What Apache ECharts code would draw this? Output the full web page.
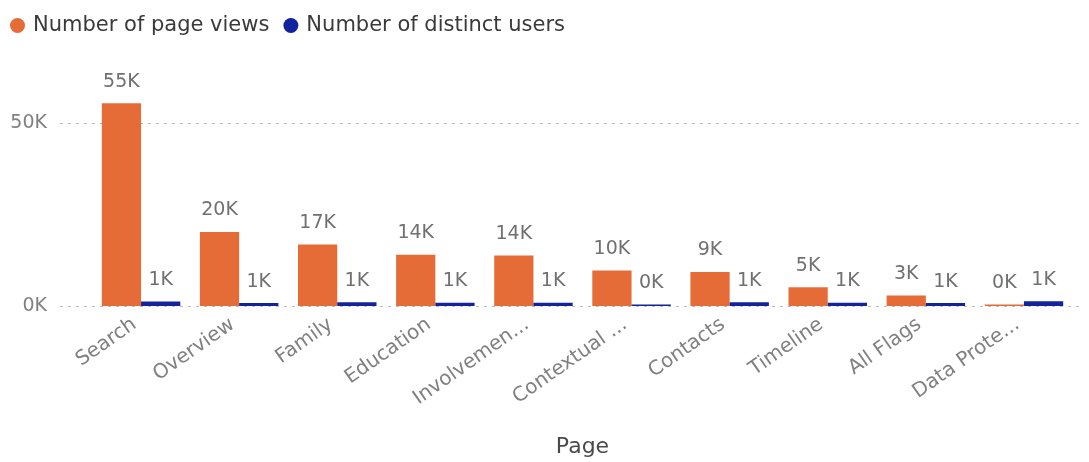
<!DOCTYPE html>
<html><head><meta charset="utf-8">
<script src="https://cdn.jsdelivr.net/npm/echarts@6/dist/echarts.min.js"></script>
<style>html,body{margin:0;padding:0;background:#fff}#c{width:1089px;height:462px}</style>
</head><body><div id="c"></div>
<script>
const categories = ['Search','Overview','Family','Education','Involvemen...','Contextual ...','Contacts','Timeline','All Flags','Data Prote...'];
const pageViews = [55400, 20200, 16800, 14000, 13800, 9700, 9300, 5100, 2900, 400];
const distinctUsers = [1200, 800, 1000, 900, 900, 400, 1000, 900, 800, 1300];
const yTicks = [0, 50000];

const font = "'DejaVu Sans',sans-serif";
const fmtK = v => Math.round(v / 1000) + 'K';
const chart = echarts.init(document.getElementById('c'));
chart.setOption({
  animation: false,
  textStyle: { fontFamily: font },
  legend: {
    left: 5, top: 10, icon: 'circle', itemWidth: 15, itemHeight: 15, itemGap: 14,
    textStyle: { fontFamily: font, fontSize: 21, color: '#3a3a3a', padding: [0, 0, 0, 3] },
    data: ['Number of page views', 'Number of distinct users']
  },
  grid: [
    { left: 92, right: 16, top: 101, bottom: 156 },
    { left: 60, right: 9, top: 101, bottom: 156 }
  ],
  xAxis: [
    {
      type: 'category', gridIndex: 0, data: categories,
      axisLine: { show: false }, axisTick: { show: false },
      axisLabel: { rotate: 35, fontFamily: font, fontSize: 20, color: '#808080', margin: 12, interval: 0, padding: [0, 8, 0, 0] },
      name: 'Page', nameLocation: 'middle', nameGap: 130,
      nameTextStyle: { fontFamily: font, fontSize: 22, color: '#4a4a4a' }
    },
    { type: 'value', gridIndex: 1, show: false, min: 0, max: 1 }
  ],
  yAxis: [
    { type: 'value', gridIndex: 0, min: 0, max: 56000, interval: 50000, show: false, splitLine: { show: false } },
    {
      type: 'value', gridIndex: 1, min: 0, max: 56000, interval: 50000,
      axisLine: { show: false }, axisTick: { show: false },
      axisLabel: { formatter: v => yTicks.includes(v) ? fmtK(v) : '', fontFamily: font, fontSize: 19, color: '#808080', margin: 13 },
      splitLine: { show: true, showMaxLine: false, lineStyle: { type: [3, 5], color: '#bdbdbd', width: 1 } }
    }
  ],
  series: [
    {
      name: 'Number of page views', type: 'bar', xAxisIndex: 0, yAxisIndex: 0,
      data: pageViews, itemStyle: { color: '#E66C37' },
      barGap: '0%', barCategoryGap: '20%',
      label: { show: true, position: 'top', distance: 12, formatter: p => fmtK(p.value), fontFamily: font, fontSize: 19, color: '#707070' }
    },
    {
      name: 'Number of distinct users', type: 'bar', xAxisIndex: 0, yAxisIndex: 0,
      data: distinctUsers, itemStyle: { color: '#12239E' },
      barGap: '0%', barCategoryGap: '20%',
      label: { show: true, position: 'top', distance: 12, formatter: p => fmtK(p.value), fontFamily: font, fontSize: 19, color: '#707070' }
    }
  ]
});
</script></body></html>
